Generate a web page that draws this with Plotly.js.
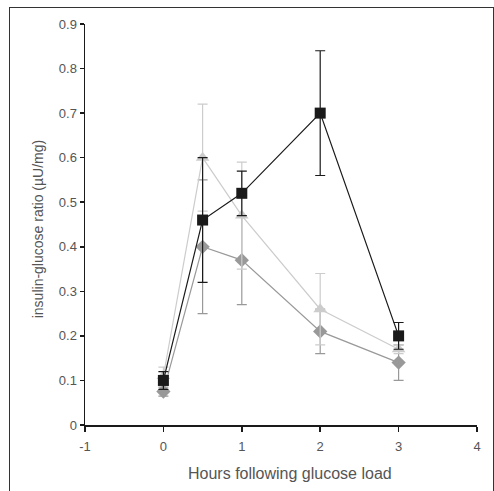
<!DOCTYPE html>
<html><head><meta charset="utf-8">
<script src="https://cdn.plot.ly/plotly-3.0.1.min.js"></script>
<style>
html,body{margin:0;padding:0;background:#fff;}
#wrap{position:relative;width:494px;height:491px;}
#plot{position:absolute;left:0;top:0;width:494px;height:491px;}
#frame{position:absolute;left:9px;top:7px;width:483px;height:490px;border-left:1px solid #333;border-top:1px solid #333;border-right:1px solid #333;pointer-events:none;}
</style></head>
<body>
<div id="wrap"><div id="plot"></div><div id="frame"></div></div>
<script>
const hours = [0, 0.5, 1, 2, 3];
const squareVals = [0.10, 0.46, 0.52, 0.70, 0.20];
const squareErr  = [0.02, 0.14, 0.05, 0.14, 0.03];
const triangleVals = [0.11, 0.60, 0.47, 0.26, 0.17];
const triangleErr  = [0.02, 0.12, 0.12, 0.08, 0.01];
const diamondVals = [0.075, 0.40, 0.37, 0.21, 0.14];
const diamondErr  = [0.01, 0.15, 0.10, 0.05, 0.04];
const xTicks = [-1, 0, 1, 2, 3, 4];
const yTicks = [0, 0.1, 0.2, 0.3, 0.4, 0.5, 0.6, 0.7, 0.8, 0.9];
const xTitle = 'Hours following glucose load';
const yTitle = 'insulin-glucose ratio (µU/mg)';

function series(y, err, color, symbol, size){
  return {x: hours, y: y, type:'scatter', mode:'lines+markers',
    line:{color:color, width:1.2},
    marker:{color:color, symbol:symbol, size:size},
    error_y:{type:'data', array:err, visible:true, color:color, thickness:1.2, width:5},
    showlegend:false, hoverinfo:'skip'};
}
const data = [
  series(diamondVals, diamondErr, '#999999', 'diamond', 11),
  series(triangleVals, triangleErr, '#cccccc', 'triangle-up', 12),
  series(squareVals, squareErr, '#1a1a1a', 'square', 11)
];
const fam = 'Liberation Sans, Arial, sans-serif';
const tickFont = {family:fam, size:13, color:'#555'};
const layout = {
  width:494, height:491,
  margin:{l:85, r:17, t:24, b:66},
  paper_bgcolor:'rgba(0,0,0,0)', plot_bgcolor:'#fff',
  xaxis:{range:[-1,4], tickvals:xTicks, ticktext:xTicks.map(String), showgrid:false, zeroline:false,
    showline:true, linecolor:'#1a1a1a', linewidth:1.5, ticks:'outside', ticklen:5, tickcolor:'#1a1a1a', tickwidth:1.5,
    tickfont:tickFont, ticklabelstandoff:4, fixedrange:true},
  yaxis:{range:[0,0.9], tickvals:yTicks, ticktext:yTicks.map(v=>v===0?'0':v.toFixed(1)), showgrid:false, zeroline:false,
    showline:true, linecolor:'#1a1a1a', linewidth:1.5, ticks:'outside', ticklen:4, tickcolor:'#1a1a1a', tickwidth:1.5,
    tickfont:tickFont, fixedrange:true},
  annotations:[
    {text:xTitle, xref:'paper', yref:'paper', x:0.523, y:-0.122, xanchor:'center', yanchor:'middle', showarrow:false,
     font:{family:fam, size:16, color:'#555'}},
    {text:yTitle, xref:'paper', yref:'paper', x:-0.12, y:0.488, xanchor:'center', yanchor:'middle', showarrow:false, textangle:-90,
     font:{family:fam, size:14, color:'#555'}}
  ]
};
Plotly.newPlot('plot', data, layout, {staticPlot:true, displayModeBar:false});
</script>
</body></html>
